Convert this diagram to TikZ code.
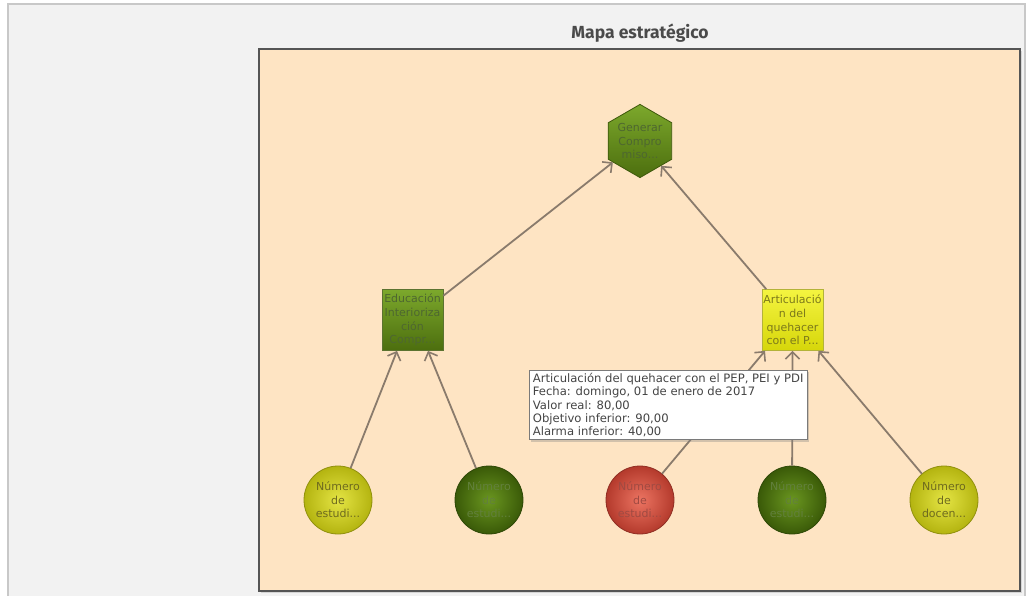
\documentclass[tikz,border=0pt]{standalone}
\usepackage{fontspec}
\setmainfont{DejaVu Sans}
\newfontfamily\titlefont{Fira Sans}
\usetikzlibrary{shapes.geometric,arrows.meta,shadows}

\definecolor{panelbg}{HTML}{F2F2F2}
\definecolor{panelline}{HTML}{C8C8C8}
\definecolor{mapbg}{HTML}{FEE4C3}
\definecolor{mapline}{HTML}{555555}
\definecolor{connc}{HTML}{8A7B6C}
\definecolor{titlec}{HTML}{4A4A4A}
% fills
\definecolor{yin}{HTML}{E4E444}
\definecolor{yout}{HTML}{B4B410}
\definecolor{gin}{HTML}{6A9620}
\definecolor{gout}{HTML}{3A5A08}
\definecolor{rin}{HTML}{EC7462}
\definecolor{rout}{HTML}{B43A2C}
\definecolor{gtop}{HTML}{7CA82C}
\definecolor{gbot}{HTML}{4C6E0E}
\definecolor{ytop}{HTML}{F4F440}
\definecolor{ybot}{HTML}{D6D60A}
% label colours
\definecolor{ytext}{HTML}{6E6A1E}
\definecolor{gtext}{HTML}{62803C}
\definecolor{rtext}{HTML}{A04A42}
\definecolor{tipline}{HTML}{7A7A7A}
\definecolor{tiptext}{HTML}{444444}

\begin{document}
\begin{tikzpicture}[x=1pt,y=-1pt,
  lbl/.style={font=\fontsize{11}{13.6}\selectfont, align=center, inner sep=0pt},
  ballnode/.style={lbl, circle, minimum size=68pt, line width=0.8pt},
  yball/.style={ballnode, draw=yout!80!black, inner color=yin, outer color=yout, text=ytext},
  gball/.style={ballnode, draw=gout!80!black, inner color=gin, outer color=gout, text=gtext},
  rball/.style={ballnode, draw=rout!80!black, inner color=rin, outer color=rout, text=rtext},
  boxnode/.style={lbl, rectangle, minimum size=61pt, draw=#1, line width=0.8pt},
  gbox/.style={boxnode=gbot!70!gray, top color=gtop, bottom color=gbot, text=gtext!80!black},
  ybox/.style={boxnode=ybot!60!gray, top color=ytop, bottom color=ybot, text=ytext!90!yellow},
  hexnode/.style={lbl, regular polygon, regular polygon sides=6, shape border rotate=30,
    minimum size=68pt, draw=gbot!80!black, line width=0.8pt, top color=gtop, bottom color=gbot, text=gtext!80!black},
  conn/.style={draw=connc, line width=1.8pt, -{Straight Barb[length=7pt,width=14pt,line width=1.6pt]}},
  tip/.style={draw=tipline, fill=white, line width=0.8pt, align=left, inner xsep=3.5pt, inner ysep=3pt,
    font=\fontsize{11.6}{13.2}\selectfont, text=tiptext, anchor=north west,
    drop shadow={shadow xshift=2pt, shadow yshift=-2pt, opacity=0.35}}
]
% canvas and panel
\fill[white] (0,0) rectangle (1029,595);
\useasboundingbox (0,0) rectangle (1029,595);
\filldraw[fill=panelbg, draw=panelline, line width=1.2pt] (8,4) rectangle (1025,600);

% map area
\filldraw[fill=mapbg, draw=mapline, line width=2pt,
  drop shadow={shadow xshift=1.5pt, shadow yshift=-1.5pt, opacity=0.25}] (259,49) rectangle (1020,591);
\node[font=\titlefont\bfseries\fontsize{17.5}{20}\selectfont, text=titlec] (title) at (640,33) {Mapa estratégico};

% objectives
\node[hexnode] (hex) at (640,141) {Generar\\Compro\\miso...};
\node[gbox] (sqL) at (412.5,320) {Educación\\Interioriza\\ción\\Compr...};
\node[ybox] (sqR) at (792.5,320) {Articulació\\n del\\quehacer\\con el P...};

% indicators
\node[yball] (c1) at (338,500) {Número\\de\\estudi...};
\node[gball] (c2) at (489,500) {Número\\de\\estudi...};
\node[rball] (c3) at (640,500) {Número\\de\\estudi...};
\node[gball] (c4) at (792,500) {Número\\de\\estudi...};
\node[yball] (c5) at (944,500) {Número\\de\\docen...};

% relations
\draw[conn] (sqL) -- (hex);
\draw[conn] (sqR) -- (hex);
\draw[conn] (c1) -- ([xshift=-15.5pt]sqL.south);
\draw[conn] (c2) -- ([xshift=15.5pt]sqL.south);
\draw[conn] (c3) -- ([xshift=-27.5pt]sqR.south);
\draw[conn] (c4) -- (sqR.south);
\draw[conn] (c5) -- ([xshift=26pt]sqR.south);

% tooltip
\node[tip] (info) at (529,370) {Articulación del quehacer con el PEP, PEI y PDI\\
Fecha: domingo, 01 de enero de 2017\\
Valor real: 80,00\\
Objetivo inferior: 90,00\\
Alarma inferior: 40,00};
\end{tikzpicture}
\end{document}
